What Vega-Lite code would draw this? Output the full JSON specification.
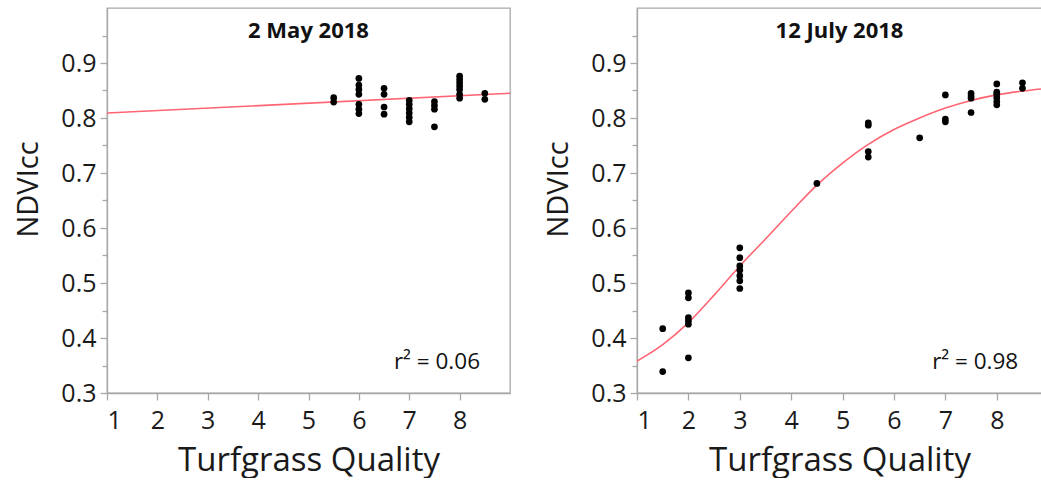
{
  "$schema": "https://vega.github.io/schema/vega-lite/v6.json",
  "background": "white",
  "padding": {"left": 13, "top": 7, "right": 0, "bottom": 0},
  "spacing": 32,
  "config": {
    "font": "Open Sans",
    "view": {"stroke": "#a8a8a8", "strokeWidth": 1.3},
    "axis": {
      "domainColor": "#a8a8a8", "domainWidth": 1.3, "tickColor": "#a8a8a8", "tickWidth": 1.3,
      "grid": false, "labelFont": "Open Sans", "labelFontSize": 25, "labelColor": "#1a1a1a",
      "titleFont": "Open Sans", "titleFontSize": 33, "titleFontWeight": "normal", "titleColor": "#1a1a1a"
    },
    "axisY": {"titleX": -70, "titleY": 181, "titleBaseline": "alphabetic", "titleAlign": "center", "titleAngle": -90, "titleFontSize": 29},
    "title": {"font": "Open Sans", "fontSize": 22, "fontWeight": "bold", "color": "#111111"}
  },
  "datasets": {
    "may_pts": [
      {"q": 5.5, "ndvi": 0.837}, {"q": 5.5, "ndvi": 0.829},
      {"q": 6, "ndvi": 0.872}, {"q": 6, "ndvi": 0.860}, {"q": 6, "ndvi": 0.852}, {"q": 6, "ndvi": 0.843}, {"q": 6, "ndvi": 0.825}, {"q": 6, "ndvi": 0.816}, {"q": 6, "ndvi": 0.808},
      {"q": 6.5, "ndvi": 0.854}, {"q": 6.5, "ndvi": 0.843}, {"q": 6.5, "ndvi": 0.820}, {"q": 6.5, "ndvi": 0.807},
      {"q": 7, "ndvi": 0.832}, {"q": 7, "ndvi": 0.825}, {"q": 7, "ndvi": 0.817}, {"q": 7, "ndvi": 0.809}, {"q": 7, "ndvi": 0.801}, {"q": 7, "ndvi": 0.793},
      {"q": 7.5, "ndvi": 0.830}, {"q": 7.5, "ndvi": 0.823}, {"q": 7.5, "ndvi": 0.816}, {"q": 7.5, "ndvi": 0.784},
      {"q": 8, "ndvi": 0.876}, {"q": 8, "ndvi": 0.870}, {"q": 8, "ndvi": 0.864}, {"q": 8, "ndvi": 0.858}, {"q": 8, "ndvi": 0.852}, {"q": 8, "ndvi": 0.843}, {"q": 8, "ndvi": 0.836},
      {"q": 8.5, "ndvi": 0.845}, {"q": 8.5, "ndvi": 0.834}
    ],
    "may_fit": [{"q": 1, "ndvi": 0.809}, {"q": 9, "ndvi": 0.845}],
    "may_r2": [{"q": 7.55, "ndvi": 0.344, "label": "r² = 0.06"}],
    "jul_pts": [
      {"q": 1.5, "ndvi": 0.417}, {"q": 1.5, "ndvi": 0.339},
      {"q": 2, "ndvi": 0.482}, {"q": 2, "ndvi": 0.473}, {"q": 2, "ndvi": 0.437}, {"q": 2, "ndvi": 0.431}, {"q": 2, "ndvi": 0.425}, {"q": 2, "ndvi": 0.364},
      {"q": 3, "ndvi": 0.564}, {"q": 3, "ndvi": 0.546}, {"q": 3, "ndvi": 0.531}, {"q": 3, "ndvi": 0.523}, {"q": 3, "ndvi": 0.513}, {"q": 3, "ndvi": 0.504}, {"q": 3, "ndvi": 0.490},
      {"q": 4.5, "ndvi": 0.681},
      {"q": 5.5, "ndvi": 0.791}, {"q": 5.5, "ndvi": 0.787}, {"q": 5.5, "ndvi": 0.739}, {"q": 5.5, "ndvi": 0.729},
      {"q": 6.5, "ndvi": 0.764},
      {"q": 7, "ndvi": 0.842}, {"q": 7, "ndvi": 0.798}, {"q": 7, "ndvi": 0.793},
      {"q": 7.5, "ndvi": 0.845}, {"q": 7.5, "ndvi": 0.840}, {"q": 7.5, "ndvi": 0.836}, {"q": 7.5, "ndvi": 0.810},
      {"q": 8, "ndvi": 0.862}, {"q": 8, "ndvi": 0.847}, {"q": 8, "ndvi": 0.843}, {"q": 8, "ndvi": 0.837}, {"q": 8, "ndvi": 0.830}, {"q": 8, "ndvi": 0.824},
      {"q": 8.5, "ndvi": 0.864}, {"q": 8.5, "ndvi": 0.854}
    ],
    "jul_fit": [
      {"q": 1, "ndvi": 0.358}, {"q": 1.5, "ndvi": 0.388}, {"q": 2, "ndvi": 0.428}, {"q": 2.5, "ndvi": 0.478},
      {"q": 3, "ndvi": 0.531}, {"q": 3.5, "ndvi": 0.580}, {"q": 4, "ndvi": 0.630}, {"q": 4.5, "ndvi": 0.678},
      {"q": 5, "ndvi": 0.718}, {"q": 5.5, "ndvi": 0.752}, {"q": 6, "ndvi": 0.779}, {"q": 6.5, "ndvi": 0.800},
      {"q": 7, "ndvi": 0.818}, {"q": 7.5, "ndvi": 0.832}, {"q": 8, "ndvi": 0.842}, {"q": 8.5, "ndvi": 0.849}, {"q": 8.88, "ndvi": 0.853}
    ],
    "jul_r2": [{"q": 7.58, "ndvi": 0.344, "label": "r² = 0.98"}]
  },
  "hconcat": [
    {
      "width": 403, "height": 385,
      "title": {"text": "2 May 2018", "anchor": "middle", "offset": -35},
      "encoding": {
        "x": {"field": "q", "type": "quantitative", "scale": {"domain": [1, 9], "nice": false, "zero": false},
          "axis": {"title": "Turfgrass Quality", "values": [1, 2, 3, 4, 5, 6, 7, 8], "tickSize": 7, "labelPadding": 8, "titlePadding": 11}},
        "y": {"field": "ndvi", "type": "quantitative", "scale": {"domain": [0.3, 1.0], "nice": false, "zero": false},
          "axis": {"title": "NDVIcc", "values": [0.3, 0.35, 0.4, 0.45, 0.5, 0.55, 0.6, 0.65, 0.7, 0.75, 0.8, 0.85, 0.9, 0.95],
            "labelExpr": "abs(datum.value*10 - round(datum.value*10)) < 0.001 ? format(datum.value, '.1f') : ''",
            "tickSize": {"condition": {"test": "abs(datum.value*10 - round(datum.value*10)) < 0.001", "value": 7}, "value": 5},
            "labelPadding": 4}}
      },
      "layer": [
        {"data": {"name": "may_fit"}, "mark": {"type": "line", "color": "#ff6473", "strokeWidth": 1.6, "clip": true}},
        {"data": {"name": "may_pts"}, "mark": {"type": "circle", "color": "#000000", "size": 45, "opacity": 1}},
        {"data": {"name": "may_r2"}, "mark": {"type": "text", "fontSize": 22.5, "color": "#111111", "align": "center", "baseline": "alphabetic"},
          "encoding": {"text": {"field": "label"}}}
      ]
    },
    {
      "width": 405, "height": 385,
      "title": {"text": "12 July 2018", "anchor": "middle", "offset": -35},
      "encoding": {
        "x": {"field": "q", "type": "quantitative", "scale": {"domain": [1, 8.88], "nice": false, "zero": false},
          "axis": {"title": "Turfgrass Quality", "values": [1, 2, 3, 4, 5, 6, 7, 8], "tickSize": 7, "labelPadding": 8, "titlePadding": 11}},
        "y": {"field": "ndvi", "type": "quantitative", "scale": {"domain": [0.3, 1.0], "nice": false, "zero": false},
          "axis": {"title": "NDVIcc", "values": [0.3, 0.35, 0.4, 0.45, 0.5, 0.55, 0.6, 0.65, 0.7, 0.75, 0.8, 0.85, 0.9, 0.95],
            "labelExpr": "abs(datum.value*10 - round(datum.value*10)) < 0.001 ? format(datum.value, '.1f') : ''",
            "tickSize": {"condition": {"test": "abs(datum.value*10 - round(datum.value*10)) < 0.001", "value": 7}, "value": 5},
            "labelPadding": 4}}
      },
      "layer": [
        {"data": {"name": "jul_fit"}, "mark": {"type": "line", "color": "#ff6473", "strokeWidth": 1.6, "interpolate": "monotone", "clip": true}},
        {"data": {"name": "jul_pts"}, "mark": {"type": "circle", "color": "#000000", "size": 45, "opacity": 1}},
        {"data": {"name": "jul_r2"}, "mark": {"type": "text", "fontSize": 22.5, "color": "#111111", "align": "center", "baseline": "alphabetic"},
          "encoding": {"text": {"field": "label"}}}
      ]
    }
  ]
}
